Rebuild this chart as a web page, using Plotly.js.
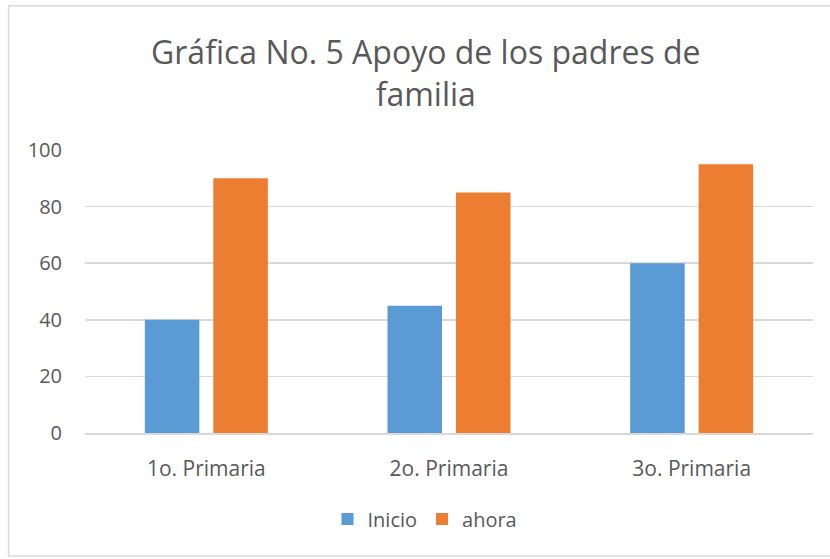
<!DOCTYPE html>
<html>
<head>
<meta charset="utf-8">
<script src="https://cdn.plot.ly/plotly-3.0.1.min.js"></script>
<style>html,body{margin:0;padding:0;background:#fff;}#chart{width:830px;height:559px;}</style>
</head>
<body>
<div id="chart"></div>
<script>
const categories = ["1o. Primaria", "2o. Primaria", "3o. Primaria"];
const inicio = [40, 45, 60];
const ahora = [90, 85, 95];
const yTicks = [0, 20, 40, 60, 80, 100];

const fontFam = "'Open Sans', 'Noto Sans', sans-serif";
const traces = [
  {type: "bar", name: "Inicio", x: categories, y: inicio, marker: {color: "#5b9bd5"}},
  {type: "bar", name: "ahora", x: categories, y: ahora, marker: {color: "#ed7d31"}}
];
const layout = {
  width: 830, height: 559,
  margin: {l: 85, r: 17, t: 150, b: 126},
  paper_bgcolor: "#fff", plot_bgcolor: "#fff",
  font: {family: fontFam, color: "#595959", size: 19},
  title: {text: "Gráfica No. 5 Apoyo de los padres de<br>familia", x: 0.513, xref: "container", xanchor: "center",
          y: 0.885, yref: "container", yanchor: "top", font: {size: 32, color: "#595959", family: fontFam}},
  barmode: "group", bargap: 0.4355, bargroupgap: 0.204,
  xaxis: {showgrid: false, showline: true, linecolor: "#d9d9d9", linewidth: 1.5, ticks: "", ticklabelstandoff: 16, tickfont: {size: 21}},
  yaxis: {range: [0, 100], tickvals: yTicks, showgrid: true, gridcolor: "#d9d9d9", gridwidth: 1.5, zeroline: false,
          ticks: "", ticklabelstandoff: 22, tickfont: {size: 20}},
  showlegend: true,
  legend: {orientation: "h", x: 0.467, xanchor: "center", y: -0.235, yanchor: "top", font: {size: 20}, itemwidth: 30, traceorder: "normal"},
  shapes: [{type: "rect", xref: "paper", yref: "paper", x0: -0.105, x1: 1.05, y0: -0.435, y1: 1.51, line: {color: "#d9d9d9", width: 1.5}}]
};
Plotly.newPlot("chart", traces, layout, {displayModeBar: false, staticPlot: true});
</script>
</body>
</html>
